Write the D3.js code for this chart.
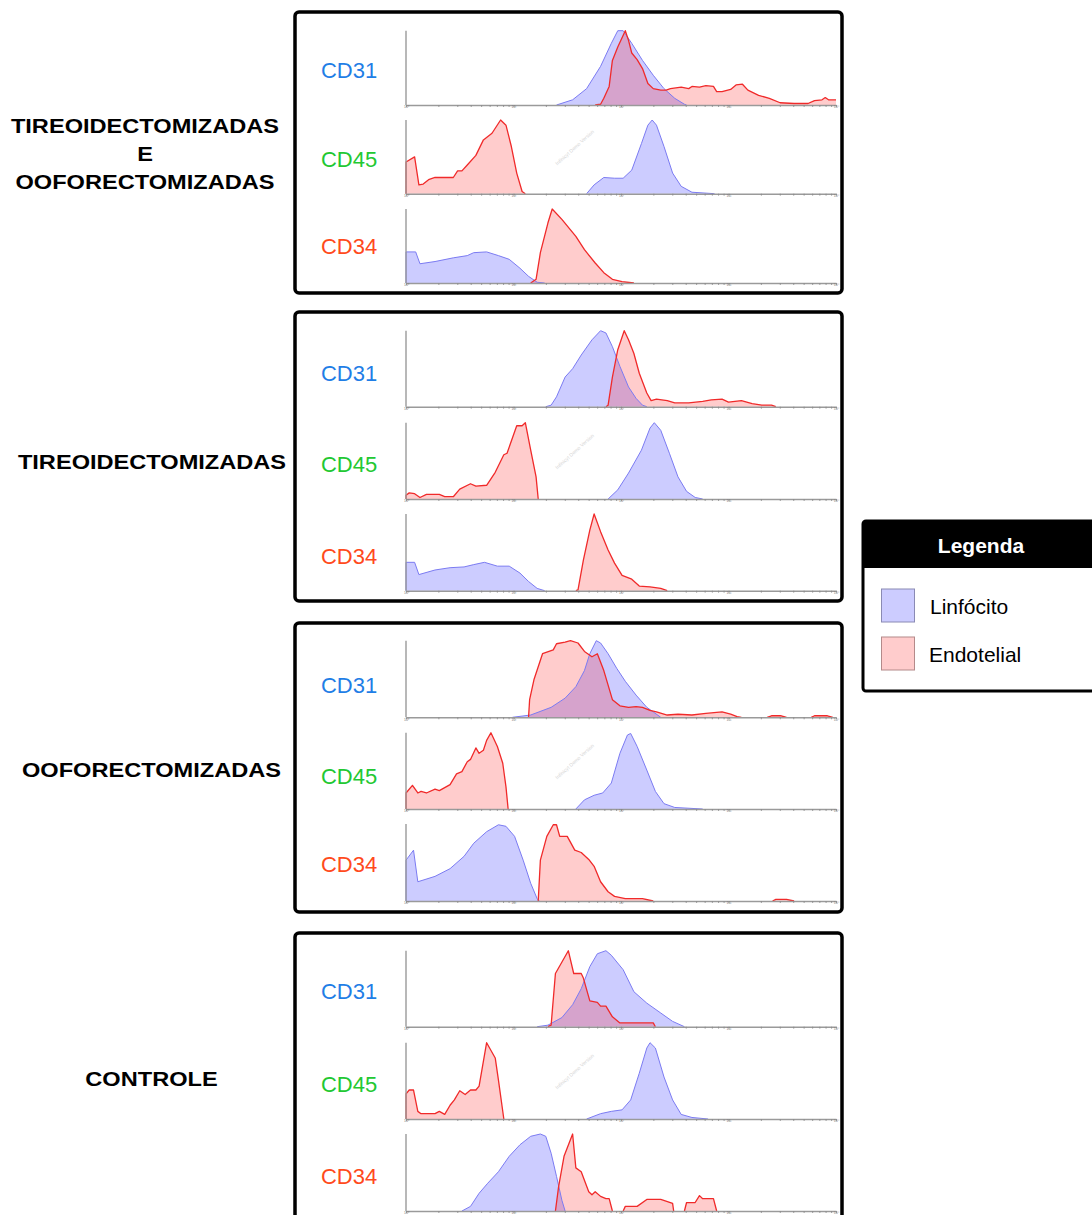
<!DOCTYPE html>
<html>
<head>
<meta charset="utf-8">
<script src="https://cdn.jsdelivr.net/npm/d3@7"></script>
<style>
  html, body { margin: 0; padding: 0; background: #fff; }
  svg { display: block; font-family: "Liberation Sans", Arial, sans-serif; }
</style>
</head>
<body>
<svg id="chart" width="1092" height="1215"></svg>
<script>
// Group names (left column) and marker names (one histogram row each)
const groupNames = [
  ["TIREOIDECTOMIZADAS", "E", "OOFORECTOMIZADAS"],
  ["TIREOIDECTOMIZADAS"],
  ["OOFORECTOMIZADAS"],
  ["CONTROLE"]
];
const markers = ["CD31", "CD45", "CD34"];
const seriesNames = ["Linfócito", "Endotelial"];
const decadeLabels = ["10⁰", "10¹", "10²", "10³", "10⁴"];

// Histograms: [log10 fluorescence, relative count (% of peak)]
// --- Tireoidectomizadas e ooforectomizadas ---
const tooCD31Linf = [[1.40,0],[1.55,7],[1.68,22],[1.81,52],[1.91,83],[1.97,100],[2.02,100],[2.10,83],[2.20,60],[2.30,40],[2.40,22],[2.50,9],[2.59,1],[2.61,0]];
const tooCD31Endo = [[1.76,0],[1.81,1],[1.84,9],[1.89,25],[1.92,60],[1.97,78],[2.04,100],[2.07,87],[2.10,70],[2.15,61],[2.20,49],[2.25,29],[2.30,22],[2.37,20],[2.42,20],[2.46,22],[2.56,24],[2.63,22],[2.66,25],[2.73,24],[2.79,26],[2.86,25],[2.89,18],[2.94,18],[3.02,21],[3.07,27],[3.13,28],[3.18,20],[3.28,13],[3.38,9],[3.48,3],[3.61,2],[3.74,2],[3.80,6],[3.87,7],[3.90,10],[3.93,7],[4.00,7]];
const tooCD45Linf = [[1.68,0],[1.75,12],[1.84,22],[1.94,21],[2.02,21],[2.10,32],[2.19,68],[2.25,93],[2.29,100],[2.33,93],[2.40,64],[2.48,28],[2.56,10],[2.66,2],[2.87,0]];
const tooCD45Endo = [[0,0],[0,43],[0.08,50],[0.12,12],[0.16,13],[0.21,19],[0.27,22],[0.44,22],[0.48,31],[0.52,31],[0.57,39],[0.65,52],[0.72,73],[0.80,82],[0.88,100],[0.93,93],[0.98,64],[1.03,28],[1.08,3],[1.11,0]];
const tooCD34Linf = [[0,0],[0,42],[0.09,42],[0.13,26],[0.27,29],[0.44,34],[0.57,37],[0.63,41],[0.75,42],[0.86,37],[0.96,32],[1.06,20],[1.14,9],[1.22,1],[1.29,0]];
const tooCD34Endo = [[1.16,0],[1.21,5],[1.25,41],[1.32,81],[1.36,100],[1.45,86],[1.58,63],[1.66,45],[1.76,27],[1.84,14],[1.92,5],[2.01,2],[2.12,0]];

// --- Tireoidectomizadas ---
const tirCD31Linf = [[1.30,0],[1.35,2],[1.40,13],[1.48,39],[1.55,50],[1.63,68],[1.73,88],[1.81,100],[1.86,97],[1.92,79],[1.99,53],[2.07,26],[2.14,11],[2.20,2],[2.24,0]];
const tirCD31Endo = [[1.86,0],[1.88,2],[1.92,39],[1.97,75],[2.03,100],[2.07,88],[2.12,70],[2.17,44],[2.24,18],[2.28,8],[2.33,10],[2.43,8],[2.50,5],[2.63,5],[2.76,7],[2.84,9],[2.94,10],[3.00,6],[3.12,8],[3.22,4],[3.31,2],[3.40,2],[3.44,0]];
const tirCD45Linf = [[1.88,0],[1.97,12],[2.07,34],[2.19,64],[2.27,93],[2.31,100],[2.37,90],[2.45,60],[2.53,29],[2.61,10],[2.69,2],[2.76,0]];
const tirCD45Endo = [[0,0],[0,5],[0.03,8],[0.08,7],[0.13,2],[0.19,6],[0.31,6],[0.36,3],[0.44,3],[0.50,13],[0.60,20],[0.65,17],[0.75,18],[0.83,35],[0.91,58],[0.94,60],[1.03,96],[1.08,96],[1.11,100],[1.16,64],[1.21,29],[1.23,0],[1.27,0]];
const tirCD34Linf = [[0,0],[0,37],[0.08,37],[0.12,21],[0.27,27],[0.41,30],[0.54,31],[0.63,34],[0.73,37],[0.85,32],[0.96,32],[1.06,23],[1.14,12],[1.22,3],[1.29,0]];
const tirCD34Endo = [[1.58,0],[1.60,1],[1.65,40],[1.71,79],[1.75,100],[1.81,77],[1.88,53],[1.94,36],[2.01,20],[2.10,15],[2.17,6],[2.27,5],[2.37,3],[2.43,0]];

// --- Ooforectomizadas ---
const oofCD31Linf = [[0.99,0],[1.16,3],[1.35,13],[1.48,25],[1.58,40],[1.66,61],[1.71,83],[1.77,100],[1.81,97],[1.88,83],[1.96,64],[2.04,47],[2.14,29],[2.24,13],[2.30,7],[2.37,0]];
const oofCD31Endo = [[1.14,0],[1.15,23],[1.19,49],[1.27,83],[1.37,88],[1.40,96],[1.48,98],[1.53,100],[1.60,97],[1.66,86],[1.73,79],[1.78,83],[1.84,61],[1.92,23],[1.99,15],[2.07,13],[2.14,14],[2.20,13],[2.27,9],[2.33,7],[2.43,3],[2.53,4],[2.66,3],[2.79,5],[2.94,7],[3.02,4],[3.08,1],[3.12,0],[3.36,0],[3.40,2],[3.49,2],[3.54,0],[3.77,0],[3.80,2],[3.92,2],[3.97,0]];
const oofCD45Linf = [[1.58,0],[1.66,12],[1.75,18],[1.83,21],[1.91,34],[1.99,73],[2.06,97],[2.09,99],[2.15,82],[2.24,51],[2.32,23],[2.40,7],[2.50,2],[2.76,0]];
const oofCD45Endo = [[0,0],[0,21],[0.06,31],[0.11,21],[0.14,23],[0.19,21],[0.27,26],[0.31,24],[0.41,32],[0.47,46],[0.52,49],[0.57,62],[0.60,65],[0.65,80],[0.68,73],[0.72,77],[0.75,90],[0.79,100],[0.85,82],[0.90,60],[0.93,29],[0.95,0],[0.99,0]];
const oofCD34Linf = [[0,0],[0,53],[0.07,66],[0.11,25],[0.27,32],[0.41,42],[0.54,58],[0.63,75],[0.75,90],[0.86,99],[0.93,97],[1.01,84],[1.09,53],[1.16,23],[1.22,3],[1.24,0]];
const oofCD34Endo = [[1.23,0],[1.25,53],[1.31,84],[1.37,99],[1.40,99],[1.43,84],[1.50,84],[1.57,66],[1.63,63],[1.70,54],[1.75,45],[1.81,25],[1.88,12],[1.94,6],[2.04,3],[2.20,3],[2.30,0],[3.41,0],[3.44,2],[3.54,2],[3.61,0]];

// --- Controle ---
const ctlCD31Linf = [[1.22,0],[1.32,2],[1.45,12],[1.55,29],[1.63,50],[1.71,79],[1.78,96],[1.86,100],[1.91,94],[2.02,75],[2.12,46],[2.24,31],[2.37,18],[2.48,7],[2.59,0]];
const ctlCD31Endo = [[1.32,0],[1.35,2],[1.39,70],[1.51,100],[1.56,70],[1.63,70],[1.65,64],[1.71,34],[1.78,32],[1.81,27],[1.86,27],[1.92,13],[1.99,5],[2.30,5],[2.32,0],[2.37,0]];
const ctlCD45Linf = [[1.68,0],[1.81,7],[1.91,10],[2.01,12],[2.09,25],[2.17,60],[2.24,93],[2.27,100],[2.32,93],[2.40,55],[2.48,25],[2.56,6],[2.66,2],[2.81,0]];
const ctlCD45Endo = [[0,0],[0,33],[0.03,38],[0.07,38],[0.11,10],[0.14,7],[0.27,7],[0.31,10],[0.36,6],[0.41,18],[0.45,25],[0.50,37],[0.55,32],[0.60,38],[0.65,38],[0.68,43],[0.75,100],[0.83,80],[0.86,51],[0.91,0]];
const ctlCD34Linf = [[0.52,0],[0.60,6],[0.68,23],[0.76,36],[0.86,51],[0.96,71],[1.06,86],[1.16,97],[1.25,100],[1.30,97],[1.35,75],[1.40,45],[1.45,14],[1.48,0]];
const ctlCD34Endo = [[1.39,0],[1.42,32],[1.47,71],[1.55,100],[1.58,56],[1.63,51],[1.70,25],[1.73,21],[1.76,25],[1.81,19],[1.86,16],[1.89,16],[1.92,0],[2.02,0],[2.04,6],[2.15,6],[2.24,15],[2.37,15],[2.48,10],[2.49,0],[2.59,0],[2.61,11],[2.69,11],[2.73,20],[2.76,16],[2.86,16],[2.89,0],[2.92,0]];

const histograms = [
  [[tooCD31Linf, tooCD31Endo], [tooCD45Linf, tooCD45Endo], [tooCD34Linf, tooCD34Endo]],
  [[tirCD31Linf, tirCD31Endo], [tirCD45Linf, tirCD45Endo], [tirCD34Linf, tirCD34Endo]],
  [[oofCD31Linf, oofCD31Endo], [oofCD45Linf, oofCD45Endo], [oofCD34Linf, oofCD34Endo]],
  [[ctlCD31Linf, ctlCD31Endo], [ctlCD45Linf, ctlCD45Endo], [ctlCD34Linf, ctlCD34Endo]]
];

// ---------- layout & styling ----------
const svg = d3.select("#chart");
const markerColors = { CD31: "#1f7ee6", CD45: "#22c832", CD34: "#ff4a1c" };
const fills = ["rgba(0,0,255,0.2)", "rgba(255,0,0,0.2)"];
const strokes = ["#7b7bf2", "#f02a2a"];
const swatchFill = ["#ccccff", "#ffcccc"];
const swatchStroke = ["#8a8ab4", "#b48a8a"];

const panels = [
  { y0: 12,  y1: 293,  label: { x: 145, y: 154 }, markerY: [70, 159, 246],
    tops: [30.7, 120, 209],   bases: [105, 193.7, 283] },
  { y0: 312, y1: 601,  label: { x: 152, y: 462 }, markerY: [373, 464, 556],
    tops: [330.7, 422.7, 514], bases: [406.7, 499, 590.7] },
  { y0: 623, y1: 912,  label: { x: 151.5, y: 770 }, markerY: [685, 776, 864],
    tops: [640.7, 732.7, 824], bases: [717.3, 809, 901] },
  { y0: 933, y1: 1224, label: { x: 151.5, y: 1079 }, markerY: [991, 1084, 1176],
    tops: [950.7, 1042.7, 1134], bases: [1026.7, 1119, 1211] }
];
const panelX0 = 295, panelX1 = 842;
const plotX0 = 406, plotX1 = 836;

// Curve coordinates are in log10 units; the axis uses the matching log scale
const x = d3.scaleLinear().domain([0, 4]).range([plotX0, plotX1]);
const xLog = d3.scaleLog().domain([1, 10000]).range([plotX0, plotX1]);

const tickValues = [];
for (let d = 0; d < 4; d++) for (let m = 1; m < 10; m++) tickValues.push(m * Math.pow(10, d));
tickValues.push(10000);

// Split a histogram outline into runs so empty stretches (zero counts)
// are not traced along the baseline
function outlineRuns(s) {
  const runs = [];
  let cur = [s[0]];
  for (let i = 1; i < s.length; i++) {
    if (s[i][1] === 0 && s[i - 1][1] === 0) {
      if (cur.length > 1) runs.push(cur);
      cur = [s[i]];
    } else {
      cur.push(s[i]);
    }
  }
  if (cur.length > 1) runs.push(cur);
  return runs;
}

panels.forEach((p, pi) => {
  const g = svg.append("g");

  // group label (bold, slightly expanded lettering)
  const names = groupNames[pi];
  const lineH = 28;
  names.forEach((n, i) => {
    const ty = p.label.y + (i - (names.length - 1) / 2) * lineH;
    svg.append("text")
      .attr("transform", `translate(${p.label.x},${ty}) scale(1.18,1)`)
      .attr("dy", "0.36em")
      .attr("text-anchor", "middle")
      .attr("font-size", 20)
      .attr("font-weight", "bold")
      .attr("fill", "#000")
      .text(n);
  });

  markers.forEach((mk, mi) => {
    const top = p.tops[mi], base = p.bases[mi];
    const y = d3.scaleLinear().domain([0, 100]).range([base, top]);

    // marker label
    g.append("text")
      .attr("x", 349)
      .attr("y", p.markerY[mi])
      .attr("dy", "0.36em")
      .attr("text-anchor", "middle")
      .attr("font-size", 22)
      .attr("fill", markerColors[mk])
      .text(mk);

    const area = d3.area().x(d => x(d[0])).y0(base).y1(d => y(d[1]));
    const line = d3.line().x(d => x(d[0])).y(d => y(d[1]));

    const series = histograms[pi][mi];
    series.forEach((s, si) => {
      g.append("path").attr("d", area(s)).attr("fill", fills[si]).attr("stroke", "none");
    });
    series.forEach((s, si) => {
      outlineRuns(s).forEach(run => {
        g.append("path").attr("d", line(run)).attr("fill", "none")
          .attr("stroke", strokes[si]).attr("stroke-width", si === 0 ? 1 : 1.3)
          .attr("stroke-linejoin", "round");
      });
    });

    // y axis line
    g.append("line")
      .attr("x1", plotX0).attr("x2", plotX0)
      .attr("y1", top).attr("y2", base)
      .attr("stroke", "#9a9a9a").attr("stroke-width", 1.4);

    // x axis (log decades with minor ticks)
    const ax = g.append("g")
      .attr("transform", `translate(0,${base})`)
      .call(d3.axisBottom(xLog)
        .tickValues(tickValues)
        .tickSize(2)
        .tickSizeOuter(0)
        .tickFormat(v => {
          const e = Math.log10(v);
          return Math.abs(e - Math.round(e)) < 1e-9 ? decadeLabels[Math.round(e)] : "";
        }));
    ax.select(".domain").attr("stroke", "#9a9a9a").attr("stroke-width", 1.4);
    ax.selectAll(".tick line").attr("stroke", "#8a8a8a").attr("stroke-width", 0.8);
    ax.selectAll(".tick text")
      .attr("font-size", 3.5)
      .attr("fill", "#777")
      .attr("y", 0.8)
      .attr("font-family", "Liberation Sans, Arial, sans-serif");

    // faint software watermark in the CD45 row
    if (mk === "CD45") {
      g.append("text")
        .attr("transform", `translate(${x(1.58)},${(top + base) / 2 - 8}) rotate(-42)`)
        .attr("text-anchor", "middle")
        .attr("font-size", 5)
        .attr("fill", "#d6d6d6")
        .text("Infinicyt Demo Version");
    }
  });

  // panel frame
  svg.append("rect")
    .attr("x", panelX0).attr("y", p.y0)
    .attr("width", panelX1 - panelX0).attr("height", p.y1 - p.y0)
    .attr("rx", 4).attr("ry", 4)
    .attr("fill", "none")
    .attr("stroke", "#000")
    .attr("stroke-width", 3.5);
});

// ---------- legend ----------
const lg = svg.append("g");
const lx0 = 863, lx1 = 1100, ly0 = 521, ly1 = 691, lhead = 568;
lg.append("rect").attr("x", lx0).attr("y", ly0).attr("width", lx1 - lx0).attr("height", lhead - ly0)
  .attr("fill", "#000");
lg.append("rect").attr("x", lx0).attr("y", ly0).attr("width", lx1 - lx0).attr("height", ly1 - ly0)
  .attr("rx", 3).attr("fill", "none").attr("stroke", "#000").attr("stroke-width", 3);
lg.append("text")
  .attr("x", 981).attr("y", 545).attr("dy", "0.36em")
  .attr("text-anchor", "middle")
  .attr("font-size", 21).attr("font-weight", "bold").attr("fill", "#fff")
  .text("Legenda");
seriesNames.forEach((n, i) => {
  const yy = 589 + i * 48;
  lg.append("rect").attr("x", 881.5).attr("y", yy).attr("width", 33).attr("height", 33)
    .attr("fill", swatchFill[i]).attr("stroke", swatchStroke[i]).attr("stroke-width", 1);
  lg.append("text")
    .attr("x", i === 0 ? 930 : 929).attr("y", yy + 17).attr("dy", "0.36em")
    .attr("font-size", 21).attr("fill", "#000")
    .text(n);
});
</script>
</body>
</html>
